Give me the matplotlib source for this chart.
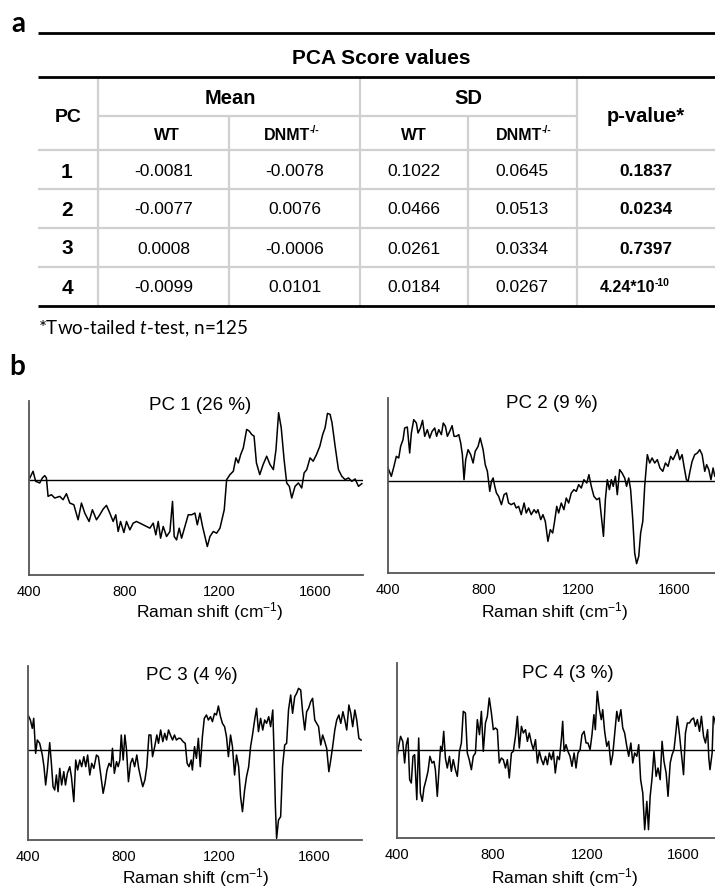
import matplotlib
matplotlib.use("Agg")
import matplotlib.pyplot as plt

plt.rcParams['font.family'] = ['Liberation Sans', 'DejaVu Sans']
plt.rcParams['mathtext.fontset'] = 'custom'
plt.rcParams['mathtext.rm'] = 'Liberation Sans'
plt.rcParams['mathtext.bf'] = 'Liberation Sans:bold'
plt.rcParams['mathtext.it'] = 'Lato:italic'

# ---- table (panel a)
pcs = ['1', '2', '3', '4']
mean_wt = ['-0.0081', '-0.0077', '0.0008', '-0.0099']
mean_dnmt = ['-0.0078', '0.0076', '-0.0006', '0.0101']
sd_wt = ['0.1022', '0.0466', '0.0261', '0.0184']
sd_dnmt = ['0.0645', '0.0513', '0.0334', '0.0267']
p_values = ['0.1837', '0.0234', '0.7397', ('4.24*10', '-10')]

# ---- PC loadings (panel b), (Raman shift, loading in a.u.)
pc1 = [(400, 2), (417, 27), (428, -3), (445, -8), (456, 7), (466, 14), (473, 7), (480, -48),
       (494, -43), (508, -53), (529, -48), (543, -58), (557, -40), (571, -68), (588, -73),
       (606, -118), (620, -68), (634, -98), (652, -123), (666, -88), (683, -118), (697, -103),
       (711, -86), (725, -75), (739, -98), (753, -123), (764, -103), (774, -153), (784, -123),
       (798, -156), (809, -123), (823, -148), (837, -128), (851, -123), (865, -128), (879, -133),
       (893, -138), (907, -143), (921, -128), (932, -163), (942, -123), (952, -173), (963, -138),
       (977, -168), (991, -153), (1002, -63), (1009, -168), (1019, -178), (1030, -143),
       (1040, -173), (1054, -138), (1068, -103), (1082, -103), (1096, -98), (1106, -133),
       (1117, -98), (1128, -138), (1138, -168), (1148, -198), (1159, -168), (1173, -153),
       (1187, -158), (1201, -143), (1219, -88), (1229, 2), (1243, 17), (1257, 27), (1268, 67),
       (1278, 52), (1288, 77), (1299, 97), (1313, 152), (1324, 147), (1334, 137), (1344, 132),
       (1354, 52), (1368, 17), (1382, 47), (1397, 72), (1411, 47), (1425, 32), (1436, 92),
       (1447, 202), (1458, 157), (1470, 62), (1481, -8), (1492, -18), (1502, -53), (1516, -18),
       (1530, -8), (1544, -23), (1554, 22), (1565, 32), (1579, 67), (1592, 57), (1606, 77),
       (1620, 102), (1632, 137), (1642, 157), (1652, 200), (1663, 197), (1671, 172), (1684, 102),
       (1698, 32), (1712, 12), (1726, 2), (1740, 7), (1754, -3), (1768, 4), (1782, -18), (1796, -10)]

pc2 = [(400, 40), (414, 15), (425, 45), (435, 75), (445, 70), (453, 105), (463, 125), (470, 160),
       (481, 163), (491, 85), (498, 145), (508, 185), (519, 175), (526, 145), (536, 160),
       (545, 183), (554, 135), (565, 155), (575, 130), (585, 150), (596, 160), (604, 135),
       (613, 155), (624, 140), (632, 175), (641, 165), (649, 135), (659, 150), (669, 167),
       (677, 135), (687, 135), (697, 140), (705, 115), (712, 80), (719, 5), (726, 65), (736, 95),
       (747, 80), (757, 55), (766, 90), (778, 105), (787, 130), (799, 95), (808, 50), (817, 30),
       (827, -30), (834, 0), (841, 10), (848, -15), (855, -35), (864, -45), (876, -70), (887, -40),
       (897, -35), (906, -65), (917, -70), (929, -65), (938, -80), (948, -75), (959, -100),
       (971, -65), (980, -95), (990, -80), (1001, -100), (1013, -85), (1022, -95), (1029, -85),
       (1041, -115), (1050, -100), (1060, -120), (1071, -180), (1081, -145), (1091, -155),
       (1099, -120), (1108, -75), (1116, -95), (1127, -65), (1138, -85), (1148, -50), (1158, -65),
       (1169, -35), (1180, -25), (1190, -30), (1200, -10), (1211, -20), (1222, 5), (1234, -5),
       (1243, 20), (1253, -15), (1264, -45), (1276, -55), (1287, -50), (1295, -105), (1304, -165),
       (1312, -55), (1320, 5), (1329, -25), (1337, 5), (1345, -15), (1354, 15), (1362, -40),
       (1372, 35), (1382, 25), (1393, 10), (1401, -15), (1410, 10), (1418, -25), (1427, -115),
       (1435, -215), (1443, -247), (1452, -225), (1460, -155), (1469, -120), (1477, -15),
       (1488, 80), (1498, 55), (1508, 70), (1519, 55), (1530, 65), (1541, 40), (1553, 30),
       (1564, 55), (1575, 45), (1586, 75), (1596, 65), (1606, 80), (1614, 95), (1624, 65),
       (1634, 80), (1642, 45), (1652, 5), (1659, 0), (1667, 30), (1676, 60), (1687, 80),
       (1698, 85), (1708, 95), (1718, 80), (1729, 30), (1737, 50), (1746, 35), (1755, 5),
       (1764, 40), (1771, 15), (1780, 20)]

pc3 = [(400, 105), (410, 90), (418, 65), (424, 95), (432, -10), (439, 30), (449, 20), (460, -15),
       (467, -50), (474, -105), (481, -60), (491, 22), (498, -40), (505, -110), (512, -120),
       (519, -75), (526, -125), (533, -55), (541, -105), (550, -65), (557, -105), (565, -70),
       (575, -50), (582, -80), (592, -155), (600, -30), (608, -60), (617, -30), (625, -50),
       (634, -20), (642, -50), (650, -15), (659, -75), (667, -40), (676, -55), (687, -15),
       (695, -20), (704, -70), (715, -130), (723, -100), (731, -60), (740, -40), (748, -50),
       (754, 5), (762, -70), (771, -35), (778, -50), (785, -30), (791, 45), (799, -30), (806, 45),
       (813, 0), (821, -95), (830, -40), (838, -25), (847, -50), (856, -15), (864, -55),
       (873, -85), (881, -110), (890, -90), (898, -50), (907, 45), (915, 45), (922, -20),
       (931, 10), (940, 45), (947, 20), (956, 60), (965, 25), (973, 50), (981, 30), (989, 60),
       (997, 45), (1006, 30), (1014, 45), (1022, 30), (1031, 35), (1039, 35), (1050, 25),
       (1059, 20), (1067, -40), (1075, -50), (1084, -30), (1089, -60), (1098, 10), (1106, -25),
       (1114, 35), (1122, -50), (1131, 40), (1139, 95), (1148, 105), (1156, 90), (1165, 100),
       (1173, 85), (1182, 110), (1190, 105), (1198, 132), (1207, 100), (1215, 80), (1224, 70),
       (1232, 40), (1240, -20), (1249, 45), (1257, 10), (1266, -75), (1274, -15), (1283, -50),
       (1291, -140), (1299, -185), (1308, -120), (1316, -80), (1325, -50), (1333, 10), (1341, 45),
       (1350, 90), (1358, 125), (1366, 55), (1375, 95), (1384, 60), (1392, 90), (1400, 80),
       (1409, 100), (1417, 70), (1426, 120), (1431, 0), (1437, -170), (1442, -265), (1450, -210),
       (1459, -200), (1467, -50), (1476, 15), (1484, 20), (1492, 120), (1501, 165), (1509, 110),
       (1518, 160), (1526, 170), (1534, 185), (1543, 180), (1551, 115), (1560, 60), (1568, 115),
       (1576, 125), (1585, 145), (1593, 155), (1602, 90), (1610, 80), (1618, 70), (1627, 15),
       (1635, 45), (1644, 25), (1652, 5), (1661, -65), (1669, -30), (1677, 10), (1686, 60),
       (1694, 90), (1703, 105), (1711, 80), (1720, 115), (1728, 90), (1736, 60), (1745, 135),
       (1753, 110), (1761, 70), (1770, 120), (1778, 90), (1787, 35), (1796, 30)]

pc4 = [(400, -18), (407, 12), (415, 42), (424, 27), (432, -38), (439, 17), (446, 37), (453, -88),
       (460, -98), (467, -18), (474, -13), (483, -148), (491, 37), (498, -128), (506, -153),
       (513, -113), (522, -88), (530, -63), (538, -18), (547, -38), (555, -33), (561, -58),
       (569, -138), (578, -38), (583, 12), (589, -3), (596, 57), (603, -23), (611, -53),
       (620, -18), (628, -63), (636, -28), (645, -58), (653, -78), (662, -3), (670, 22),
       (678, 117), (687, 112), (695, -8), (703, -28), (712, -58), (720, -18), (729, -8), (737, 92),
       (746, 47), (754, 117), (762, -3), (771, 82), (779, 102), (787, 157), (796, 112), (804, 62),
       (813, 67), (821, 62), (829, -38), (838, -23), (846, -28), (855, -53), (863, -28),
       (871, -83), (880, -8), (888, -3), (897, 42), (905, 102), (913, 7), (922, 72), (930, 52),
       (939, 62), (947, 27), (955, 52), (964, 22), (972, 2), (981, 32), (989, -38), (997, -3),
       (1006, -28), (1014, -43), (1023, -18), (1031, -43), (1039, -8), (1048, -28), (1056, -3),
       (1064, -68), (1073, -18), (1081, -28), (1090, 37), (1095, 87), (1101, -3), (1109, 17),
       (1117, -3), (1126, -18), (1134, -48), (1143, -8), (1151, -53), (1159, -8), (1168, 2),
       (1176, 47), (1185, 57), (1193, 22), (1201, 22), (1210, 2), (1218, 47), (1226, 107),
       (1232, 62), (1240, 177), (1249, 122), (1257, 92), (1263, 122), (1271, 57), (1280, 12),
       (1288, 27), (1297, -43), (1305, -13), (1313, 47), (1322, 117), (1330, 87), (1339, 122),
       (1347, 67), (1355, 52), (1364, 12), (1372, -18), (1381, 22), (1389, -38), (1397, -8),
       (1406, -18), (1414, 17), (1422, -88), (1431, -128), (1439, -238), (1448, -153),
       (1455, -238), (1462, -138), (1470, -83), (1478, -3), (1487, -78), (1495, -53), (1504, -88),
       (1512, 27), (1520, -33), (1529, -68), (1537, -138), (1546, -38), (1554, -13), (1562, 2),
       (1571, 62), (1576, 102), (1585, 47), (1593, -8), (1602, -73), (1610, 52), (1618, 82),
       (1627, 82), (1635, 92), (1644, 97), (1652, 72), (1660, 92), (1669, 57), (1677, 102),
       (1686, 42), (1694, 22), (1703, 62), (1708, -23), (1713, -58), (1722, -8), (1727, 102),
       (1733, 92), (1740, 60)]

titles = ['PC 1 (26 %)', 'PC 2 (9 %)', 'PC 3 (4 %)', 'PC 4 (3 %)']
xticks = [400, 800, 1200, 1600]

W, H = 715, 891
fig = plt.figure(figsize=(W / 100, H / 100), dpi=100)

# background axes in pixel coordinates for the table and labels
bg = fig.add_axes([0, 0, 1, 1])
bg.set_xlim(0, W)
bg.set_ylim(H, 0)
bg.axis('off')


def sup_text(x, y, base, sup, size, sup_size):
    # base text with a small bold superscript hanging off its top right corner
    t = bg.text(x, y, base, fontsize=size, fontweight='bold', ha='right', va='center')
    bg.annotate(sup, xy=(1, 0.86), xycoords=t, xytext=(-0.3, 0), textcoords='offset points',
                fontsize=sup_size, fontweight='bold', ha='left', va='center')


grey = '#d0d0d0'
thin = dict(color=grey, lw=1.6, solid_capstyle='butt', zorder=1)
thick = dict(color='black', lw=2.0, solid_capstyle='butt', zorder=2)
for y in (150, 189, 228, 267):
    bg.plot([38, W], [y, y], **thin)
bg.plot([98, 577], [116, 116], **thin)
for x in (98, 360, 577):
    bg.plot([x, x], [77, 306], **thin)
for x in (229, 468):
    bg.plot([x, x], [116, 306], **thin)
for y in (33, 77, 306):
    bg.plot([38, W], [y, y], **thick)

bg.text(11, 32, 'a', fontsize=20, fontweight='bold', family='Lato', va='baseline')
bg.text(381, 58, 'PCA Score values', fontsize=15, fontweight='bold', ha='center', va='center')
bg.text(68, 118, 'PC', fontsize=14, fontweight='bold', ha='center', va='center')
bg.text(230, 99, 'Mean', fontsize=14.5, fontweight='bold', ha='center', va='center')
bg.text(468, 99, 'SD', fontsize=14.5, fontweight='bold', ha='center', va='center')
bg.text(646, 117, 'p-value*', fontsize=14.5, fontweight='bold', ha='center', va='center')
for x in (167, 414):
    bg.text(x, 135, 'WT', fontsize=12, fontweight='bold', ha='center', va='center')
for x in (310, 542):
    sup_text(x, 135, 'DNMT', '-/-', 11.5, 7.5)

row_y = [172, 210, 249, 288]
for i, y in enumerate(row_y):
    bg.text(67, y, pcs[i], fontsize=15, fontweight='bold', ha='center', va='center')
    bg.text(164, y, mean_wt[i], fontsize=12.5, ha='center', va='center')
    bg.text(295, y, mean_dnmt[i], fontsize=12.5, ha='center', va='center')
    bg.text(414, y, sd_wt[i], fontsize=12.5, ha='center', va='center')
    bg.text(522, y, sd_dnmt[i], fontsize=12.5, ha='center', va='center')
    if isinstance(p_values[i], tuple):
        sup_text(655, y, p_values[i][0], p_values[i][1], 11.5, 7.5)
    else:
        bg.text(646, y, p_values[i], fontsize=12.5, fontweight='bold', ha='center', va='center')

bg.text(38, 334, r'*Two-tailed $t$-test, n=125', fontsize=13.5, family='Lato', va='baseline')
bg.text(9, 375, 'b', fontsize=20, fontweight='bold', family='Lato', va='baseline')

# panel b: (data, left, right, top, bottom in px, xmax, ylim)
panels = [
    (pc1, 29, 363, 401, 575, 1801, (-283, 237)),
    (pc2, 388, 715, 398, 573, 1772, (-275, 250)),
    (pc3, 28, 362, 666, 840, 1800, (-270, 252)),
    (pc4, 397, 715, 663, 838, 1734, (-263, 262)),
]
title_pos = [(200, 405), (552, 404), (192, 675), (568, 673)]
xlabel_pos = [(210, 612), (555, 612), (196, 878), (565, 878)]

for k, (data, l, r, t, b, xmax, ylim) in enumerate(panels):
    ax = fig.add_axes([l / W, 1 - b / H, (r - l) / W, (b - t) / H])
    ax.patch.set_alpha(0)
    xs = [p[0] for p in data]
    ys = [p[1] for p in data]
    ax.plot(xs, ys, color='black', lw=1.1)
    ax.axhline(0, color='black', lw=1.0)
    ax.set_xlim(400, xmax)
    ax.set_ylim(*ylim)
    for s in ('top', 'right'):
        ax.spines[s].set_visible(False)
    for s in ('left', 'bottom'):
        ax.spines[s].set_color('#555555')
        ax.spines[s].set_linewidth(1.3)
    ax.set_yticks([])
    ax.set_xticks(xticks)
    ax.tick_params(axis='x', length=0, pad=7, labelsize=10.5)

    bg.text(*title_pos[k], titles[k], fontsize=13.5, ha='center', va='center')
    bg.text(*xlabel_pos[k], r'Raman shift (cm$^{-1}$)', fontsize=12.5, ha='center', va='center')

fig.savefig('out.png', dpi=100)
